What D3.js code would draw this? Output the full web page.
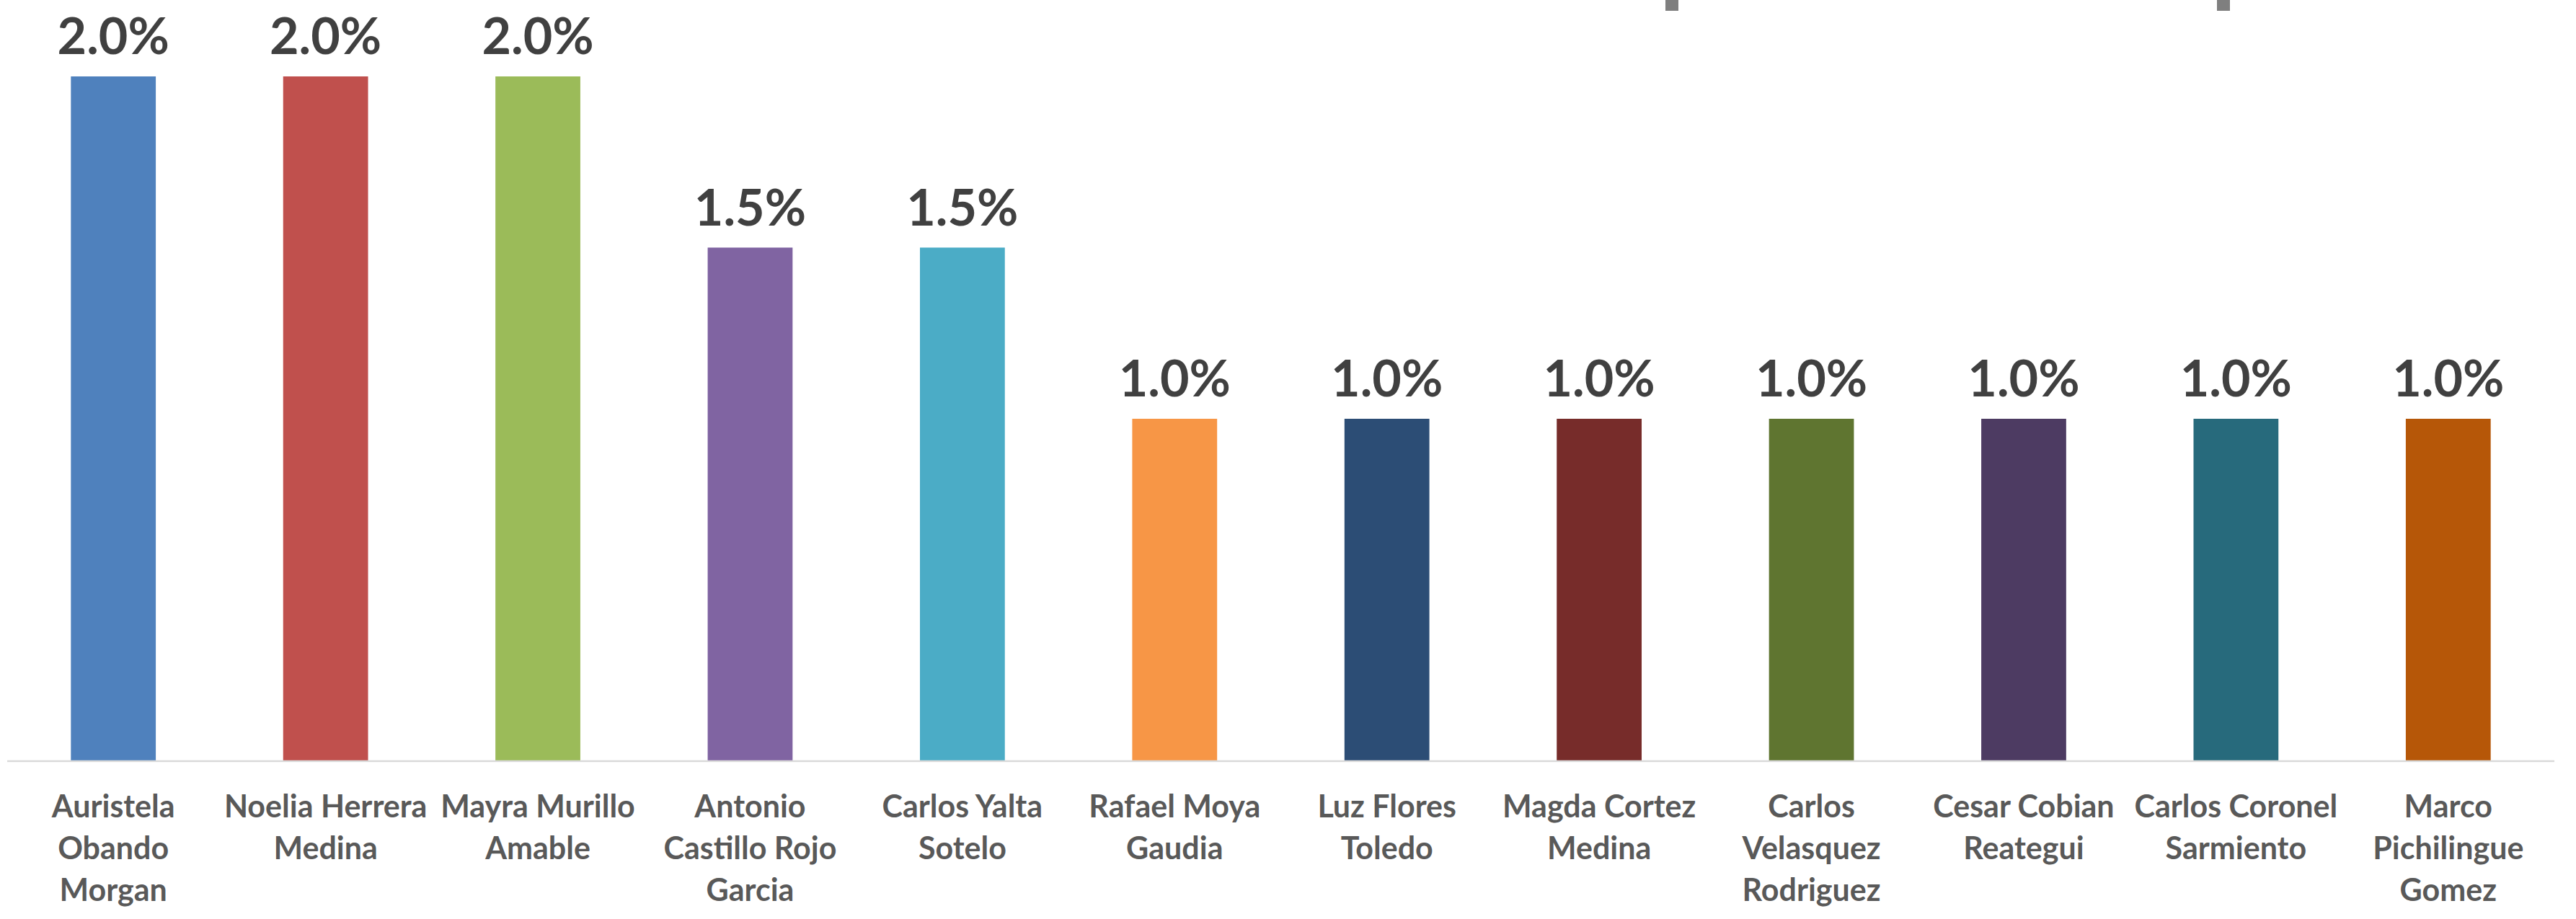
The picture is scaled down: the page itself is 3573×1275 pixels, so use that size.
<!DOCTYPE html>
<html>
<head>
<meta charset="utf-8">
<script src="https://cdn.jsdelivr.net/npm/d3@7/dist/d3.min.js"></script>
<style>
  html, body { margin: 0; padding: 0; background: #ffffff; }
  svg { display: block; }
</style>
</head>
<body>
<script>
// ---- data ----
const categories = [
  "Auristela\nObando\nMorgan",
  "Noelia Herrera\nMedina",
  "Mayra Murillo\nAmable",
  "Antonio\nCastillo Rojo\nGarcia",
  "Carlos Yalta\nSotelo",
  "Rafael Moya\nGaudia",
  "Luz Flores\nToledo",
  "Magda Cortez\nMedina",
  "Carlos\nVelasquez\nRodriguez",
  "Cesar Cobian\nReategui",
  "Carlos Coronel\nSarmiento",
  "Marco\nPichilingue\nGomez"
];
const values = [2.0, 2.0, 2.0, 1.5, 1.5, 1.0, 1.0, 1.0, 1.0, 1.0, 1.0, 1.0];
const colors = ["#4f81bd", "#c0504d", "#9bbb59", "#8064a2", "#4bacc6", "#f79646",
                "#2c4d75", "#772c2a", "#5f7530", "#4d3b62", "#276a7c", "#b65708"];

// ---- layout ----
const W = 3573, H = 1275;
const left = 10, right = 3543, baseY = 1056;
const fontFamily = "Lato, 'Open Sans', 'DejaVu Sans', sans-serif";

const svg = d3.select("body").append("svg")
  .attr("width", W).attr("height", H)
  .attr("viewBox", `0 0 ${W} ${H}`);

const x = d3.scaleBand()
  .domain(d3.range(categories.length))
  .range([left, right])
  .paddingInner(0.6)
  .paddingOuter(0.3);

const y = d3.scaleLinear()
  .domain([0, 2.2])
  .range([baseY, baseY - 2.2 * 475]);

// decorative cut-off marks at the top (partially visible elements)
svg.append("g").selectAll("rect").data([2310, 3075]).join("rect")
  .attr("x", d => d).attr("y", 0).attr("width", 18).attr("height", 15)
  .attr("fill", "#7f7f7f");

// bars
svg.append("g").selectAll("rect").data(values).join("rect")
  .attr("x", (d, i) => x(i))
  .attr("y", d => y(d))
  .attr("width", x.bandwidth())
  .attr("height", d => y(0) - y(d))
  .attr("fill", (d, i) => colors[i]);

// axis line (category axis)
const xAxis = d3.axisBottom(x).tickSize(0).tickFormat("");
const gAxis = svg.append("g").attr("transform", `translate(0,${baseY})`).call(xAxis);
gAxis.select(".domain").attr("stroke", "#d9d9d9").attr("stroke-width", 2.5)
  .attr("d", `M${left},0H${right}`);

// value labels
svg.append("g").selectAll("text").data(values).join("text")
  .attr("x", (d, i) => x(i) + x.bandwidth() / 2)
  .attr("y", d => y(d) - 31)
  .attr("text-anchor", "middle")
  .attr("font-family", fontFamily)
  .attr("font-weight", "bold")
  .attr("font-size", 70)
  .attr("fill", "#404040")
  .text(d => d.toFixed(1) + "%");

// category labels
const lbl = svg.append("g").selectAll("text").data(categories).join("text")
  .attr("x", (d, i) => x(i) + x.bandwidth() / 2)
  .attr("y", baseY + 78)
  .attr("text-anchor", "middle")
  .attr("font-family", fontFamily)
  .attr("font-weight", "bold")
  .attr("font-size", 43)
  .attr("fill", "#595959");
lbl.each(function(d, i) {
  const t = d3.select(this);
  const cx = x(i) + x.bandwidth() / 2;
  d.split("\n").forEach((line, k) => {
    t.append("tspan").attr("x", cx).attr("dy", k === 0 ? 0 : 58).text(line);
  });
});
</script>
</body>
</html>
